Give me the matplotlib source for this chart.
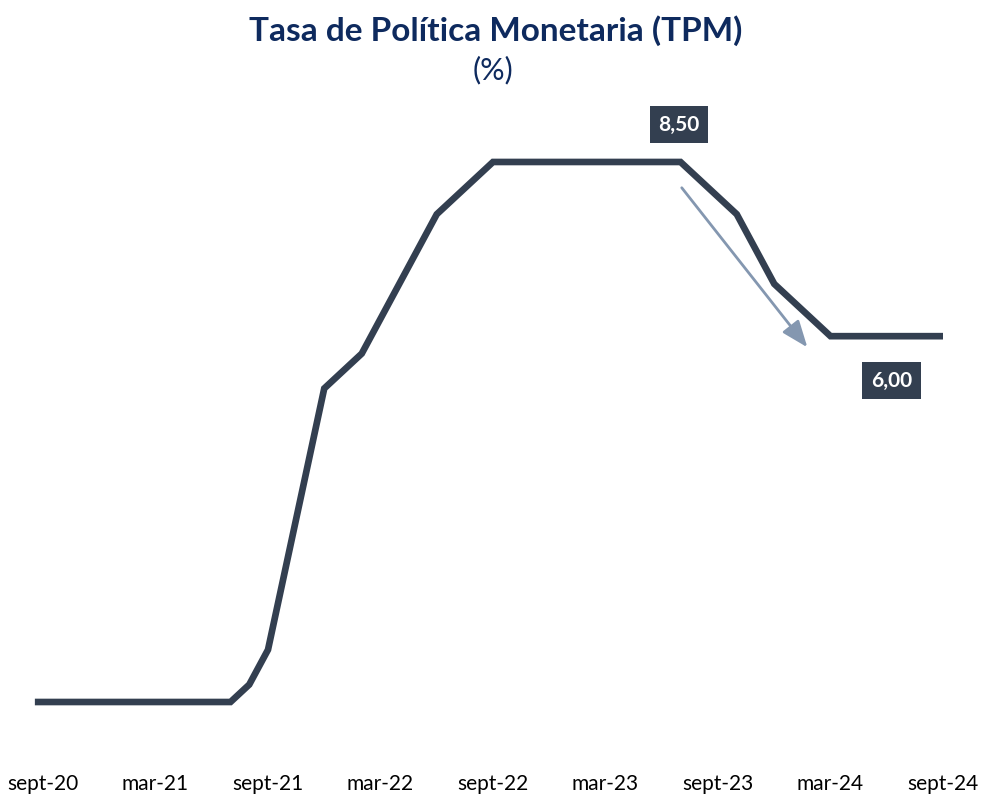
import pandas as pd
import matplotlib
matplotlib.use('Agg')
import matplotlib.pyplot as plt

plt.rcParams['font.family'] = ['Lato', 'DejaVu Sans']

# TPM (%) - first reading mid-August 2020, then monthly
dates = ['2020-08-18'] + [d.strftime('%Y-%m-%d') for d in pd.date_range('2020-09-01', '2024-09-01', freq='MS')]
tpm = [0.75,
       0.75, 0.75, 0.75, 0.75,                     # sep-dic 2020
       0.75, 0.75, 0.75, 0.75, 0.75, 0.75, 0.75,   # ene-jul 2021
       1.00, 1.50, 2.75, 4.00, 5.25,               # ago-dic 2021
       5.50, 5.75, 6.25, 6.75, 7.25, 7.75, 8.00, 8.25, 8.50, 8.50, 8.50, 8.50,  # 2022
       8.50, 8.50, 8.50, 8.50, 8.50, 8.50, 8.50, 8.25, 8.00, 7.75, 7.25, 6.75,  # 2023
       6.50, 6.25, 6.00, 6.00, 6.00, 6.00, 6.00, 6.00, 6.00]                    # 2024

tick_dates = ['2020-09-01', '2021-03-01', '2021-09-01', '2022-03-01', '2022-09-01',
              '2023-03-01', '2023-09-01', '2024-03-01', '2024-09-01']
tick_labels = ['sept-20', 'mar-21', 'sept-21', 'mar-22', 'sept-22',
               'mar-23', 'sept-23', 'mar-24', 'sept-24']

line_color = '#333f50'
title_color = '#0e2a5e'


def month_pos(d):
    # months since sept-2020, equal spacing per month
    d = pd.Timestamp(d)
    return (d.year - 2020) * 12 + (d.month - 9) + (d.day - 1) / 30


df = pd.DataFrame({'x': [month_pos(d) for d in dates], 'tpm': tpm})

fig = plt.figure(figsize=(9.81, 7.99), dpi=100)
ax = fig.add_axes([0, 39 / 799, 1, 760 / 799])

ax.plot(df['x'], df['tpm'], color=line_color, linewidth=4.8, solid_joinstyle='miter',
        solid_capstyle='butt')

# scale: one month ~ 18.75 px, sept-20 at 43 px
px_per_month = 18.75
x0 = -43 / px_per_month
ax.set_xlim(x0, x0 + 981 / px_per_month)
ax.set_ylim(0.75 - 58 / 69.68, 0.75 + 702 / 69.68)

ax.set_xticks([month_pos(d) for d in tick_dates])
ax.set_xticklabels(tick_labels, fontsize=15, color='black')
ax.tick_params(axis='x', length=0, pad=10)
ax.set_yticks([])
for s in ax.spines.values():
    s.set_visible(False)

# value labels
box = dict(boxstyle='square,pad=0.42', facecolor=line_color, edgecolor='none')
ax.annotate('8,50', xy=(month_pos('2023-07-01'), 8.50), xytext=(-1, 27),
            textcoords='offset points', ha='center', va='center', color='white',
            fontsize=15, fontweight='bold', bbox=box)
ax.annotate('6,00', xy=(month_pos('2024-09-01'), 6.00), xytext=(-37, -32),
            textcoords='offset points', ha='center', va='center', color='white',
            fontsize=15, fontweight='bold', bbox=box)

# downward arrow
ax.annotate('', xy=(month_pos('2024-01-24'), 5.84), xytext=(month_pos('2023-07-03'), 8.13),
            arrowprops=dict(arrowstyle='-|>,head_length=0.9,head_width=0.35', color='#8497b0',
                            lw=2, mutation_scale=18, shrinkA=0, shrinkB=0))

fig.text(0.5056, 1 - 41 / 799, 'Tasa de Política Monetaria (TPM)', ha='center', va='baseline',
         fontsize=24, fontweight='bold', color=title_color)
fig.text(0.5025, 1 - 70 / 799, '(%)', ha='center', va='center', fontsize=22, color=title_color)

fig.savefig('out.png', dpi=100)
